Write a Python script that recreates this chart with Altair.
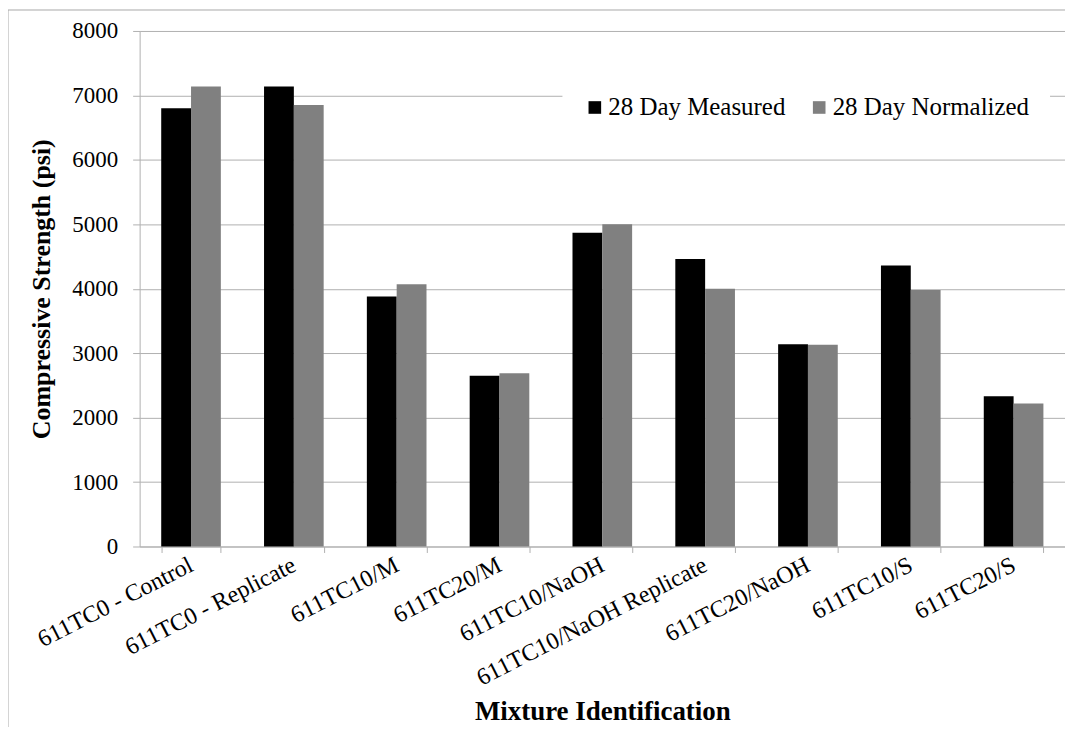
import altair as alt
import pandas as pd

categories = ["611TC0 - Control", "611TC0 - Replicate", "611TC10/M", "611TC20/M",
              "611TC10/NaOH", "611TC10/NaOH Replicate", "611TC20/NaOH", "611TC10/S", "611TC20/S"]
measured = [6800, 7140, 3880, 2650, 4870, 4460, 3140, 4360, 2330]
normalized = [7140, 6850, 4070, 2690, 5000, 4000, 3130, 3980, 2220]
series = ["28 Day Measured", "28 Day Normalized"]
colors = ["#000000", "#808080"]

rows = []
for c, m, n in zip(categories, measured, normalized):
    rows.append({"Mixture": c, "Series": series[0], "Value": m})
    rows.append({"Mixture": c, "Series": series[1], "Value": n})
df = pd.DataFrame(rows)

FONT = "Liberation Serif"
GRID = "#b0b0b0"

bars = alt.Chart(df).mark_bar(stroke=None).encode(
    x=alt.X("Mixture:N", sort=categories,
            scale=alt.Scale(paddingInner=0.42, paddingOuter=0.21),
            axis=alt.Axis(title="Mixture Identification", labelAngle=-27,
                          labelAlign="right", labelBaseline="middle",
                          labelFontSize=24, labelPadding=11, labelLimit=0,
                          tickBand="extent",
                          tickSize=6, tickColor=GRID, domainColor=GRID,
                          titleFontSize=27, titleFontWeight="bold",
                          titleY=166, titleBaseline="middle", grid=False)),
    xOffset=alt.XOffset("Series:N", sort=series),
    y=alt.Y("Value:Q", scale=alt.Scale(domain=[0, 8000]),
            axis=alt.Axis(title="Compressive Strength (psi)", values=list(range(0, 8001, 1000)),
                          format="d",
                          labelFontSize=23, labelPadding=15, tickSize=7,
                          tickColor=GRID, domainColor=GRID, gridColor=GRID,
                          titleFontSize=26, titleFontWeight="bold",
                          titleX=-98, titleBaseline="middle")),
    color=alt.Color("Series:N", sort=series,
                    scale=alt.Scale(domain=series, range=colors),
                    legend=alt.Legend(title=None, orient="none", direction="horizontal",
                                      legendX=424, legendY=44, padding=20,
                                      fillColor="white", symbolType="square",
                                      symbolSize=160, symbolStrokeWidth=0,
                                      labelFontSize=25, labelOffset=1, labelLimit=0,
                                      columnPadding=21)),
)

frame = alt.Chart(pd.DataFrame({"a": [0]})).mark_rect(
    fill=None, stroke="#a8a8a8", strokeWidth=1, clip=False
).encode(
    x=alt.value(-132), x2=alt.value(960), y=alt.value(-21), y2=alt.value(740)
)

chart = alt.layer(frame, bars).properties(
    width=928, height=517,
    padding={"left": 132, "top": 22, "right": 0, "bottom": 180},
    autosize=alt.AutoSizeParams(type="none"),
).configure(
    font=FONT,
).configure_axis(
    labelFont=FONT, titleFont=FONT, labelColor="black", titleColor="black",
).configure_legend(
    labelFont=FONT, labelColor="black",
).configure_view(stroke=None)

chart.save("out.html", embed_options={"renderer": "svg", "actions": False})
